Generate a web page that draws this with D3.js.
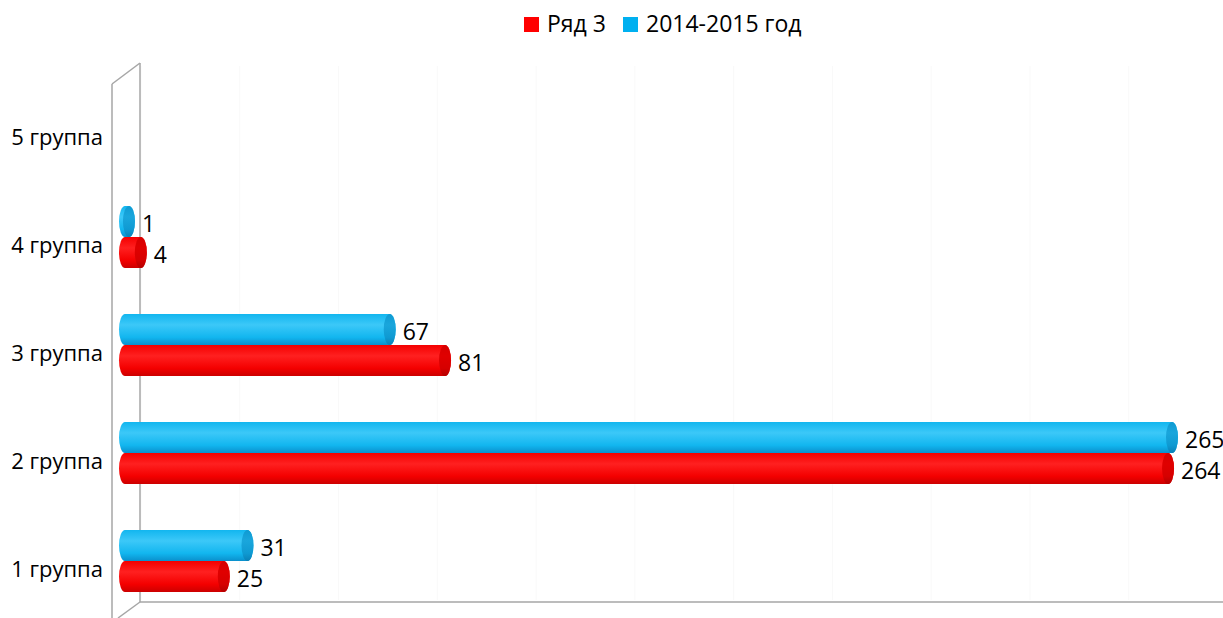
<!DOCTYPE html>
<html>
<head>
<meta charset="utf-8">
<script src="https://cdn.jsdelivr.net/npm/d3@7"></script>
<style>
  body { margin: 0; background: #fff; }
  text { font-family: "Open Sans", "Noto Sans", sans-serif; fill: #000; }
</style>
</head>
<body>
<svg id="chart" width="1223" height="618"></svg>
<script>
// data
var categories = ["1 группа", "2 группа", "3 группа", "4 группа", "5 группа"];
var seriesNames = ["Ряд 3", "2014-2015 год"];
var ryad3 = [25, 264, 81, 4, null];
var year2014 = [31, 265, 67, 1, null];
var colors = ["#ff0000", "#00b0f0"];

var svg = d3.select("#chart");
var W = 1223, H = 618;

var x = d3.scaleLinear().domain([0, 265]).range([125, 1172]);
var y = d3.scaleBand().domain(categories.slice().reverse()).range([83, 623]);

var defs = svg.append("defs");
function grad(id, top, mid, bot) {
  var g = defs.append("linearGradient").attr("id", id)
      .attr("x1", 0).attr("y1", 0).attr("x2", 0).attr("y2", 1);
  g.append("stop").attr("offset", "0%").attr("stop-color", mid);
  g.append("stop").attr("offset", "35%").attr("stop-color", top);
  g.append("stop").attr("offset", "75%").attr("stop-color", mid);
  g.append("stop").attr("offset", "100%").attr("stop-color", bot);
}
grad("g0", "#ff2020", "#f40000", "#cc0000");
grad("g1", "#3cc8f8", "#12b6ef", "#0a90cc");
grad("c0", "#e00000", "#d60000", "#b40000");
grad("c1", "#1aa6dc", "#0f9ad2", "#0a80b6");

// back wall grid (very faint)
var grid = svg.append("g");
d3.range(0, 300, 25).forEach(function(v) {
  grid.append("line")
    .attr("x1", x(v) + 16).attr("x2", x(v) + 16)
    .attr("y1", 66).attr("y2", 600)
    .attr("stroke", "#f9f9f9").attr("stroke-width", 1);
});

// frame (3d walls)
var frame = svg.append("g").attr("fill", "none").attr("stroke", "#a6a6a6").attr("stroke-width", 1.5);
frame.append("line").attr("x1", 140).attr("y1", 63).attr("x2", 140).attr("y2", 602);
frame.append("line").attr("x1", 112).attr("y1", 84).attr("x2", 112).attr("y2", 618);
frame.append("line").attr("x1", 112).attr("y1", 84).attr("x2", 140).attr("y2", 63);
frame.append("line").attr("x1", 140).attr("y1", 602).attr("x2", W).attr("y2", 602);
frame.append("line").attr("x1", 140).attr("y1", 602).attr("x2", 118).attr("y2", 618);

// category labels
svg.append("g").selectAll("text")
  .data(categories)
  .enter().append("text")
    .attr("x", 103)
    .attr("y", function(d) { return y(d) + y.bandwidth() / 2 + 8; })
    .attr("text-anchor", "end")
    .style("font-size", "22px")
    .text(function(d) { return d; });

// bars as horizontal cylinders
var barH = 31, rx = 6;
var series = [
  { name: seriesNames[1], values: year2014, idx: 1, off: -8 - barH },
  { name: seriesNames[0], values: ryad3, idx: 0, off: -8 }
];

series.forEach(function(s) {
  var g = svg.append("g");
  categories.forEach(function(c, i) {
    var v = s.values[i];
    if (v == null) return;
    var y0 = y(c) + y.bandwidth() / 2 + s.off;
    var x0 = x(0), x1 = x(v);
    var cy = y0 + barH / 2;
    g.append("path")
      .attr("d", "M" + x0 + "," + y0 + " L" + x1 + "," + y0 +
        " A" + rx + "," + (barH / 2) + " 0 0 1 " + x1 + "," + (y0 + barH) +
        " L" + x0 + "," + (y0 + barH) +
        " A" + rx + "," + (barH / 2) + " 0 0 1 " + x0 + "," + y0 + "Z")
      .attr("fill", "url(#g" + s.idx + ")");
    g.append("ellipse")
      .attr("cx", x1).attr("cy", cy)
      .attr("rx", rx).attr("ry", barH / 2)
      .attr("fill", "url(#c" + s.idx + ")");
    g.append("text")
      .attr("x", x1 + rx + 7)
      .attr("y", cy + 10)
      .style("font-size", "23px")
      .text(v);
  });
});

// legend
var legend = svg.append("g");
var lx = [524, 623];
seriesNames.forEach(function(n, i) {
  legend.append("rect")
    .attr("x", lx[i]).attr("y", 17).attr("width", 15).attr("height", 15)
    .attr("fill", colors[i]);
  legend.append("text")
    .attr("x", lx[i] + 23).attr("y", 32)
    .style("font-size", "23px")
    .text(n);
});
</script>
</body>
</html>
